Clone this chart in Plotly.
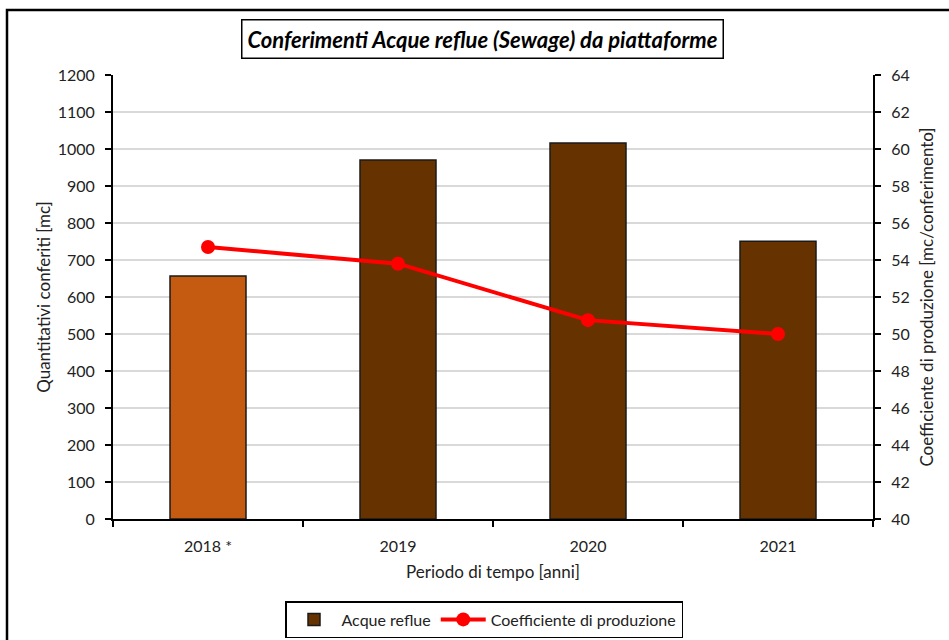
import plotly.graph_objects as go

categories = ["2018 *", "2019", "2020", "2021"]
quantities = [657, 970, 1016, 751]
coefficients = [54.7, 53.8, 50.75, 50.0]
bar_colors = ["#C55A11", "#663300", "#663300", "#663300"]

W, H = 949, 640
L, R, T, B = 113, 873, 75, 519

def px(x):
    return (x - L) / (R - L)

def py(y):
    return (B - y) / (B - T)

font_family = "Lato, 'Noto Sans', sans-serif"

fig = go.Figure()
fig.add_trace(go.Bar(
    x=categories, y=quantities, name="Acque reflue", showlegend=False,
    marker=dict(color=bar_colors, line=dict(color="#1a1a1a", width=1.5)),
    width=0.4, yaxis="y",
))
fig.add_trace(go.Bar(
    x=[None], y=[None], name="Acque reflue", showlegend=True,
    marker=dict(color="#663300", line=dict(color="#1a1a1a", width=1.5)),
    yaxis="y",
))
fig.add_trace(go.Scatter(
    x=categories, y=coefficients, name="Coefficiente di produzione",
    mode="lines+markers",
    line=dict(color="#FF0000", width=4),
    marker=dict(color="#FF0000", size=14),
    yaxis="y2",
))

fig.update_layout(
    width=W, height=H,
    margin=dict(l=L, r=W - R, t=T, b=H - B, autoexpand=False),
    paper_bgcolor="white", plot_bgcolor="white",
    font=dict(family=font_family, size=16, color="#222"),
    showlegend=True,
    barmode="overlay",
    legend=dict(
        orientation="h", x=px(484), xanchor="center", y=py(601), yanchor="top",
        bordercolor="black", borderwidth=1.5, font=dict(size=16),
        itemwidth=45, traceorder="normal",
    ),
    xaxis=dict(
        type="category", showline=True, linecolor="black", linewidth=2,
        ticks="outside", tickson="boundaries", ticklen=6, tickwidth=2, tickcolor="black",
        ticklabelstandoff=12,
        title=dict(text="Periodo di tempo [anni]", font=dict(size=17), standoff=12),
        tickfont=dict(size=16), mirror=False, showgrid=False,
    ),
    yaxis=dict(
        range=[0, 1200], dtick=100, showline=True, linecolor="black", linewidth=2,
        ticks="outside", ticklen=6, tickwidth=2, tickcolor="black",
        ticklabelstandoff=7,
        gridcolor="#d9d9d9", gridwidth=1.5,
        title=dict(text="Quantitativi conferiti [mc]", font=dict(size=17), standoff=3),
        tickfont=dict(size=16), zeroline=False,
    ),
    yaxis2=dict(
        range=[40, 64], dtick=2, overlaying="y", side="right",
        showline=True, linecolor="black", linewidth=2,
        ticks="outside", ticklen=6, tickwidth=2, tickcolor="black",
        ticklabelstandoff=7,
        showgrid=False, zeroline=False,
        title=dict(text="Coefficiente di produzione [mc/conferimento]", font=dict(size=17), standoff=12),
        tickfont=dict(size=16),
    ),
)

fig.add_annotation(
    text="<b><i>Conferimenti Acque reflue (Sewage) da piattaforme</i></b>",
    xref="paper", yref="paper", x=px(482), y=py(39), xanchor="center", yanchor="middle",
    showarrow=False, font=dict(size=22, color="black"),
    bordercolor="black", borderwidth=1.5, borderpad=5, bgcolor="white",
)

fig.add_shape(
    type="rect", xref="paper", yref="paper",
    x0=px(7), x1=px(960), y0=py(660), y1=py(10),
    line=dict(color="black", width=2.5), fillcolor="rgba(0,0,0,0)", layer="below",
)

fig.write_html(
    "out.html",
    config={"displayModeBar": False},
    post_script="document.body.style.margin='0';document.body.style.overflow='hidden';",
)
